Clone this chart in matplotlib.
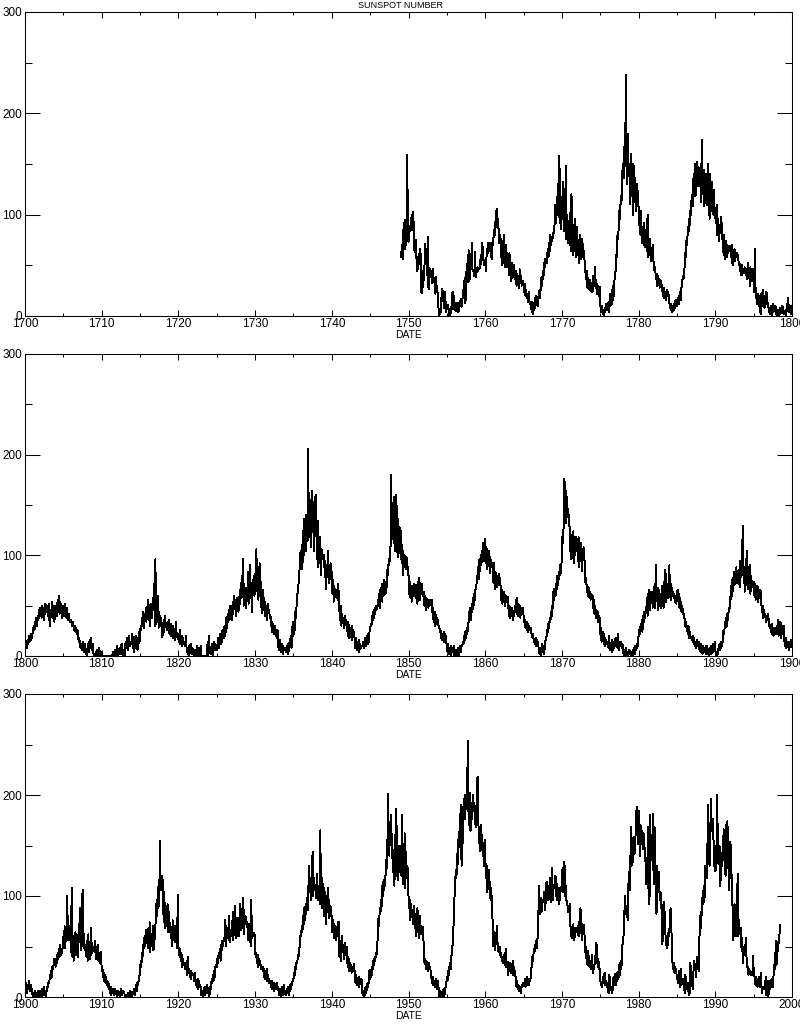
import numpy as np
import matplotlib
matplotlib.use('Agg')
import matplotlib.pyplot as plt
from matplotlib.ticker import MultipleLocator

plt.rcParams['font.family'] = ['Liberation Sans', 'DejaVu Sans']

# monthly sunspot numbers, one row per year (Jan..Dec)
ssn_1749 = [
    58, 63, 70, 56, 85, 84, 95, 66, 76, 76, 159, 85,      # 1749
    73, 76, 89, 88, 90, 100, 85, 103, 91, 66, 63, 75,     # 1750
    70, 44, 45, 56, 61, 51, 66, 60, 24, 23, 29, 44,
    35, 50, 71, 59, 60, 40, 78, 29, 27, 47, 38, 40,
    44, 32, 46, 38, 36, 32, 22, 39, 28, 25, 20, 7,
    0, 3, 2, 14, 21, 27, 19, 12, 8, 24, 13, 4,
    10, 11, 7, 7, 0, 0, 9, 3, 18, 24, 7, 20,              # 1755
    13, 7, 5, 9, 13, 13, 4, 6, 12, 14, 17, 9,
    14, 21, 26, 30, 38, 13, 25, 51, 40, 33, 65, 34,
    38, 52, 49, 72, 46, 45, 44, 39, 63, 38, 43, 43,
    48, 44, 47, 47, 49, 60, 51, 72, 68, 57, 50, 55,
    55, 44, 58, 66, 62, 72, 68, 64, 72, 66, 56, 72,       # 1760
    70, 78, 85, 80, 92, 100, 106, 88, 96, 84, 72, 80,
    76, 58, 72, 50, 64, 80, 56, 48, 62, 70, 50, 48,
    56, 40, 62, 42, 48, 34, 52, 44, 38, 50, 36, 40,
    44, 30, 42, 38, 34, 28, 46, 36, 40, 30, 34, 35,
    30, 24, 32, 20, 26, 18, 22, 14, 24, 16, 12, 13,       # 1765
    8, 4, 14, 2, 10, 6, 18, 12, 20, 14, 10, 19,
    20, 26, 18, 32, 38, 30, 44, 36, 52, 48, 56, 54,
    52, 60, 66, 58, 72, 64, 80, 70, 78, 74, 82, 82,
    84, 96, 110, 92, 118, 100, 130, 98, 158, 112, 86, 89,
    118, 96, 132, 84, 110, 92, 148, 76, 100, 88, 72, 94,  # 1770
    70, 102, 64, 120, 84, 90, 60, 78, 96, 70, 58, 87,
    88, 60, 74, 52, 70, 80, 56, 62, 76, 58, 64, 58,
    50, 42, 36, 44, 28, 38, 30, 26, 36, 32, 24, 32,
    24, 40, 30, 36, 48, 28, 34, 22, 30, 26, 20, 29,
    12, 4, 8, 10, 2, 6, 0, 8, 4, 12, 6, 12,               # 1775
    8, 14, 4, 22, 10, 18, 26, 12, 30, 20, 34, 40,
    45, 60, 58, 80, 76, 90, 104, 96, 118, 110, 124, 149,
    150, 136, 170, 148, 238, 160, 130, 180, 142, 138, 150, 110,
    160, 118, 140, 100, 150, 128, 112, 136, 104, 124, 130, 109,
    108, 90, 96, 80, 104, 72, 88, 76, 70, 92, 68, 74,     # 1780
    80, 64, 100, 58, 72, 60, 76, 54, 66, 62, 70, 55,
    52, 44, 48, 36, 42, 30, 40, 38, 34, 28, 36, 34,
    30, 26, 20, 28, 18, 24, 22, 16, 26, 20, 24, 20,
    14, 8, 12, 6, 10, 4, 8, 12, 6, 14, 16, 12,
    10, 14, 18, 12, 20, 24, 16, 28, 32, 38, 40, 37,       # 1785
    50, 62, 58, 76, 70, 88, 82, 96, 90, 104, 100, 119,
    120, 108, 140, 126, 150, 118, 144, 130, 152, 128, 140, 128,
    128, 150, 112, 174, 136, 120, 144, 108, 132, 140, 118, 109,
    150, 110, 130, 96, 140, 122, 104, 132, 112, 100, 124, 97,
    104, 92, 110, 80, 96, 86, 74, 90, 82, 98, 90, 77,     # 1790
    72, 60, 80, 56, 66, 74, 58, 70, 62, 68, 64, 69,
    64, 58, 70, 50, 62, 56, 66, 54, 60, 58, 62, 60,
    56, 50, 52, 44, 48, 40, 50, 42, 46, 44, 48, 43,
    40, 46, 36, 52, 38, 44, 30, 48, 36, 42, 34, 46,
    30, 24, 66, 18, 28, 12, 22, 16, 20, 10, 8, 2,         # 1795
    22, 10, 26, 14, 18, 8, 20, 12, 24, 16, 12, 10,
    4, 8, 2, 10, 6, 0, 12, 4, 8, 6, 10, 7,
    0, 2, 6, 0, 4, 8, 2, 6, 4, 10, 3, 4,
    2, 4, 6, 0, 10, 12, 18, 6, 4, 8, 2, 10,
]

ssn_1800 = [
    6, 10, 14, 8, 16, 12, 20, 14, 18, 16, 22, 18,         # 1800
    24, 28, 30, 26, 34, 32, 38, 30, 40, 36, 42, 48,
    40, 44, 38, 50, 42, 48, 36, 46, 52, 44, 50, 50,
    48, 36, 52, 30, 46, 40, 54, 38, 44, 50, 34, 45,
    44, 50, 40, 56, 48, 60, 42, 54, 46, 52, 38, 40,
    50, 44, 52, 40, 46, 38, 48, 36, 42, 40, 34, 36,       # 1805
    36, 32, 30, 34, 28, 26, 30, 24, 28, 22, 26, 21,
    14, 18, 10, 8, 12, 6, 10, 14, 4, 8, 12, 5,
    2, 0, 6, 12, 4, 16, 10, 18, 8, 6, 12, 3,
    0, 0, 2, 4, 0, 6, 2, 0, 8, 4, 0, 4,
    0, 0, 0, 0, 0, 0, 0, 0, 0, 0, 0, 0,                   # 1810
    0, 0, 0, 0, 0, 2, 4, 0, 0, 6, 0, 5,
    10, 2, 0, 4, 8, 2, 6, 12, 4, 0, 6, 6,
    0, 12, 14, 8, 18, 6, 16, 20, 10, 14, 12, 16,
    22, 8, 16, 4, 14, 20, 10, 18, 6, 12, 24, 13,
    20, 30, 26, 38, 32, 44, 28, 40, 36, 48, 34, 49,       # 1815
    40, 56, 36, 48, 30, 52, 44, 38, 58, 46, 72, 30,
    96, 32, 48, 40, 60, 28, 44, 36, 30, 38, 22, 19,
    28, 36, 24, 40, 30, 32, 26, 34, 28, 36, 22, 25,
    32, 20, 28, 18, 30, 22, 26, 16, 34, 24, 20, 17,
    22, 14, 26, 12, 18, 10, 20, 16, 12, 14, 10, 13,       # 1820
    20, 4, 8, 2, 10, 0, 6, 12, 4, 2, 8, 3,
    0, 2, 6, 0, 4, 10, 2, 0, 8, 6, 0, 10,
    0, 0, 0, 0, 0, 0, 0, 0, 0, 8, 14, 0,
    20, 4, 6, 2, 12, 10, 0, 8, 14, 6, 12, 8,
    6, 10, 18, 8, 16, 22, 12, 20, 14, 26, 18, 29,         # 1825
    18, 30, 24, 38, 28, 42, 34, 46, 36, 50, 40, 50,
    36, 54, 42, 60, 48, 56, 40, 58, 46, 52, 44, 59,
    52, 66, 58, 80, 60, 96, 50, 72, 62, 68, 48, 58,
    60, 84, 52, 72, 90, 58, 66, 44, 76, 62, 80, 60,
    72, 88, 106, 64, 78, 56, 70, 92, 60, 74, 48, 43,      # 1830
    66, 50, 58, 40, 54, 42, 48, 36, 52, 44, 46, 38,
    40, 30, 34, 24, 32, 28, 22, 30, 20, 26, 18, 26,
    12, 6, 10, 16, 4, 8, 12, 2, 10, 6, 8, 8,
    4, 8, 6, 12, 2, 10, 14, 16, 20, 8, 24, 34,
    20, 30, 26, 44, 38, 52, 60, 66, 72, 80, 92, 103,      # 1835
    98, 110, 86, 124, 100, 136, 118, 104, 140, 122, 114, 206,
    130, 162, 118, 150, 108, 164, 126, 144, 104, 158, 136, 160,
    120, 96, 134, 88, 110, 92, 118, 80, 106, 98, 100, 96,
    100, 78, 94, 66, 90, 80, 104, 72, 86, 76, 92, 90,
    80, 62, 76, 54, 70, 60, 66, 58, 64, 56, 72, 57,       # 1840
    44, 36, 50, 30, 42, 34, 38, 28, 40, 32, 36, 30,
    30, 20, 34, 18, 28, 22, 26, 16, 30, 20, 24, 22,
    14, 8, 18, 6, 12, 10, 16, 4, 12, 8, 10, 10,
    10, 14, 8, 12, 18, 10, 16, 20, 12, 22, 14, 24,
    26, 32, 30, 40, 36, 44, 38, 48, 42, 50, 46, 49,       # 1845
    50, 56, 62, 48, 66, 58, 72, 54, 68, 60, 76, 68,
    62, 74, 68, 86, 80, 96, 90, 104, 110, 180, 116, 116,
    140, 112, 158, 104, 130, 160, 118, 98, 136, 110, 128, 102,
    124, 96, 110, 80, 104, 88, 100, 92, 86, 98, 90, 88,
    80, 62, 74, 58, 70, 54, 68, 64, 72, 60, 66, 71,       # 1850
    58, 70, 52, 74, 60, 78, 56, 68, 62, 72, 60, 64,
    64, 50, 60, 46, 58, 52, 56, 48, 54, 50, 56, 55,
    56, 44, 48, 36, 40, 30, 44, 34, 38, 32, 36, 30,
    30, 24, 26, 18, 22, 16, 20, 14, 24, 18, 20, 15,
    10, 4, 12, 2, 8, 6, 0, 10, 4, 8, 6, 10,               # 1855
    0, 2, 6, 0, 4, 8, 2, 0, 6, 10, 4, 10,
    10, 14, 12, 20, 16, 24, 18, 28, 22, 30, 34, 44,
    40, 48, 36, 52, 44, 58, 50, 62, 56, 68, 70, 74,
    80, 88, 76, 96, 84, 100, 90, 104, 98, 112, 94, 104,
    116, 92, 108, 86, 100, 94, 104, 82, 98, 90, 88, 92,   # 1860
    88, 72, 92, 66, 84, 74, 80, 68, 78, 70, 82, 72,
    70, 56, 66, 52, 62, 58, 64, 50, 60, 54, 58, 59,
    52, 40, 50, 38, 46, 42, 48, 36, 44, 40, 46, 46,
    56, 42, 58, 40, 52, 44, 50, 38, 48, 42, 46, 48,
    40, 34, 36, 28, 32, 26, 34, 24, 30, 28, 26, 28,       # 1865
    24, 20, 18, 22, 14, 16, 12, 18, 10, 16, 14, 12,
    4, 2, 8, 0, 6, 12, 4, 10, 2, 8, 14, 18,
    20, 26, 24, 32, 28, 38, 34, 44, 40, 50, 48, 67,
    56, 64, 60, 72, 66, 80, 70, 84, 76, 90, 82, 88,
    100, 120, 112, 140, 176, 150, 164, 132, 158, 138, 146, 132,  # 1870
    128, 104, 120, 96, 116, 108, 124, 92, 112, 100, 118, 116,
    110, 94, 118, 88, 104, 96, 112, 84, 106, 98, 108, 101,
    84, 72, 78, 64, 70, 60, 68, 58, 64, 56, 62, 58,
    60, 48, 56, 42, 50, 38, 46, 40, 44, 34, 40, 38,
    22, 28, 14, 20, 16, 24, 12, 18, 10, 16, 12, 12,       # 1875
    14, 8, 20, 6, 12, 10, 16, 4, 12, 8, 14, 12,
    18, 10, 16, 8, 22, 6, 14, 12, 10, 14, 8, 11,
    4, 0, 6, 2, 8, 0, 4, 2, 0, 6, 4, 5,
    0, 2, 4, 0, 6, 8, 2, 10, 6, 12, 8, 14,
    20, 26, 22, 30, 28, 36, 24, 40, 34, 44, 38, 46,       # 1880
    44, 58, 40, 62, 50, 66, 46, 60, 54, 64, 48, 60,
    54, 72, 48, 90, 56, 64, 46, 68, 58, 62, 50, 48,
    56, 70, 62, 48, 74, 60, 86, 54, 66, 72, 58, 58,
    90, 66, 72, 56, 68, 60, 64, 58, 62, 54, 60, 52,
    60, 66, 56, 62, 48, 58, 52, 44, 50, 46, 42, 42,       # 1885
    36, 30, 34, 28, 26, 22, 30, 18, 24, 20, 18, 19,
    16, 20, 12, 18, 10, 14, 8, 16, 12, 10, 14, 7,
    8, 4, 12, 6, 2, 10, 4, 8, 6, 2, 10, 10,
    2, 6, 0, 8, 4, 10, 2, 6, 12, 4, 8, 14,
    6, 2, 0, 4, 2, 8, 10, 12, 6, 14, 10, 11,              # 1890
    20, 26, 22, 34, 28, 38, 30, 42, 36, 48, 44, 59,
    56, 70, 60, 78, 64, 84, 70, 80, 76, 88, 72, 78,
    72, 86, 68, 94, 78, 90, 100, 129, 80, 88, 64, 72,
    96, 70, 104, 66, 84, 74, 90, 62, 80, 72, 68, 70,
    74, 60, 72, 56, 68, 62, 70, 54, 64, 58, 66, 64,       # 1895
    52, 44, 50, 38, 46, 40, 42, 34, 40, 36, 42, 38,
    34, 28, 30, 24, 32, 22, 26, 20, 28, 24, 22, 24,
    30, 22, 36, 20, 28, 24, 34, 18, 26, 30, 22, 30,
    16, 10, 18, 8, 14, 12, 10, 6, 14, 12, 16, 9,
]

ssn_1900 = [
    10, 6, 14, 4, 12, 8, 16, 10, 6, 12, 8, 8,             # 1900
    0, 2, 4, 0, 6, 2, 0, 4, 2, 6, 0, 6,
    6, 2, 0, 8, 4, 2, 10, 4, 6, 0, 8, 10,
    10, 16, 14, 22, 18, 26, 20, 30, 28, 34, 38, 37,
    30, 36, 34, 44, 38, 48, 40, 52, 42, 46, 44, 50,
    60, 52, 70, 48, 66, 58, 100, 62, 56, 56, 70, 64,      # 1905
    44, 108, 40, 60, 36, 58, 50, 64, 42, 56, 48, 40,
    72, 58, 88, 46, 66, 54, 106, 50, 62, 48, 52, 42,
    40, 56, 36, 62, 44, 50, 38, 68, 42, 54, 46, 46,
    50, 44, 56, 38, 48, 40, 52, 36, 44, 34, 40, 45,
    26, 30, 20, 24, 16, 22, 14, 20, 12, 16, 10, 13,       # 1910
    8, 4, 10, 2, 6, 8, 4, 6, 2, 8, 6, 4,
    0, 2, 6, 4, 2, 0, 8, 2, 4, 6, 4, 5,
    2, 0, 0, 2, 0, 4, 0, 0, 0, 6, 2, 1,
    2, 4, 6, 8, 2, 10, 12, 6, 14, 12, 18, 21,
    24, 36, 30, 44, 40, 52, 48, 60, 50, 66, 58, 61,       # 1915
    48, 68, 52, 74, 44, 62, 56, 50, 70, 46, 58, 57,
    70, 84, 96, 80, 104, 110, 90, 155, 120, 106, 112, 120,
    96, 74, 104, 68, 88, 82, 70, 92, 64, 84, 72, 73,
    58, 60, 50, 76, 62, 68, 54, 70, 56, 60, 48, 101,
    50, 44, 40, 48, 36, 42, 30, 38, 32, 34, 28, 29,       # 1920
    30, 36, 22, 40, 24, 28, 20, 26, 18, 24, 22, 23,
    20, 16, 24, 12, 14, 10, 18, 8, 16, 12, 10, 10,
    2, 6, 4, 0, 8, 10, 2, 6, 4, 12, 8, 8,
    0, 4, 10, 8, 18, 14, 22, 16, 26, 20, 30, 32,
    30, 38, 34, 44, 40, 48, 36, 52, 46, 56, 50, 58,       # 1925
    56, 76, 50, 70, 58, 68, 62, 80, 54, 66, 60, 67,
    62, 84, 56, 76, 66, 90, 58, 72, 64, 78, 60, 62,
    70, 92, 66, 84, 74, 98, 62, 86, 72, 80, 76, 74,
    70, 56, 72, 60, 68, 50, 96, 58, 64, 62, 60, 63,
    46, 40, 44, 34, 42, 30, 38, 32, 36, 28, 30, 28,       # 1930
    26, 30, 22, 18, 24, 20, 28, 16, 22, 18, 14, 16,
    14, 10, 16, 8, 12, 6, 14, 10, 8, 12, 14, 9,
    10, 4, 2, 8, 6, 0, 10, 4, 2, 12, 6, 4,
    2, 6, 4, 10, 8, 2, 12, 6, 10, 14, 12, 18,
    18, 24, 22, 30, 28, 36, 34, 42, 40, 48, 50, 61,       # 1935
    60, 70, 64, 80, 72, 88, 76, 92, 82, 98, 86, 88,
    130, 104, 118, 96, 112, 124, 144, 100, 118, 106, 110, 111,
    98, 122, 104, 96, 110, 92, 165, 100, 118, 88, 112, 110,
    80, 104, 92, 72, 100, 84, 108, 78, 96, 82, 90, 80,
    80, 64, 76, 58, 72, 62, 70, 56, 68, 60, 74, 74,       # 1940
    40, 56, 36, 52, 60, 44, 48, 38, 54, 42, 50, 50,
    36, 30, 40, 26, 34, 28, 32, 24, 30, 26, 28, 33,
    20, 14, 22, 12, 18, 16, 20, 10, 16, 14, 18, 16,
    4, 2, 6, 0, 8, 10, 4, 12, 14, 10, 18, 27,
    18, 24, 20, 30, 28, 36, 32, 40, 36, 44, 42, 48,       # 1945
    62, 78, 70, 88, 82, 96, 90, 110, 100, 116, 106, 113,
    120, 136, 128, 150, 201, 164, 140, 172, 150, 180, 138, 140,
    124, 146, 110, 160, 130, 186, 120, 142, 116, 150, 128, 124,
    150, 120, 180, 112, 140, 126, 162, 108, 144, 118, 130, 126,
    100, 88, 96, 76, 92, 80, 86, 72, 90, 78, 82, 67,      # 1950
    60, 76, 88, 64, 72, 58, 80, 62, 70, 66, 68, 69,
    40, 34, 38, 28, 36, 30, 32, 26, 34, 28, 30, 22,
    18, 14, 20, 12, 16, 10, 14, 18, 8, 12, 16, 9,
    2, 0, 6, 4, 0, 2, 4, 8, 0, 6, 10, 11,
    20, 16, 26, 22, 30, 34, 28, 40, 44, 52, 66, 78,       # 1955
    100, 112, 126, 118, 142, 132, 156, 148, 168, 178, 190, 130,
    166, 152, 188, 196, 176, 200, 186, 206, 216, 254, 172, 170,
    202, 164, 192, 176, 180, 200, 186, 192, 182, 168, 170, 206,
    218, 180, 160, 152, 144, 170, 148, 160, 140, 150, 130, 156,
    140, 118, 132, 104, 120, 110, 126, 98, 114, 96, 100, 90,  # 1960
    60, 50, 64, 46, 58, 52, 70, 56, 48, 44, 50, 49,
    40, 44, 36, 40, 34, 42, 36, 32, 48, 30, 34, 35,
    22, 30, 26, 34, 24, 32, 28, 36, 22, 30, 26, 25,
    14, 10, 16, 8, 12, 6, 10, 8, 4, 12, 10, 12,
    14, 12, 18, 10, 16, 12, 20, 14, 12, 18, 16, 19,       # 1965
    26, 32, 40, 36, 48, 44, 52, 50, 56, 48, 60, 72,
    110, 90, 82, 98, 84, 88, 96, 94, 104, 90, 86, 104,
    114, 98, 104, 96, 110, 104, 118, 94, 128, 100, 96, 109,
    108, 116, 120, 100, 112, 96, 104, 92, 108, 96, 106, 108,
    112, 128, 104, 120, 134, 100, 110, 96, 92, 90, 84, 84,  # 1970
    92, 78, 60, 62, 58, 66, 72, 56, 60, 62, 68, 65,
    68, 70, 60, 74, 64, 88, 76, 56, 72, 62, 66, 71,
    44, 50, 40, 36, 32, 46, 38, 30, 36, 34, 28, 42,
    28, 24, 30, 32, 36, 46, 54, 40, 30, 38, 28, 28,
    18, 12, 14, 10, 20, 14, 22, 24, 12, 16, 14, 10,       # 1975
    8, 4, 22, 18, 10, 8, 6, 4, 16, 20, 12, 23,
    16, 12, 20, 24, 18, 32, 20, 30, 36, 28, 38, 56,
    52, 74, 86, 100, 82, 90, 82, 76, 110, 124, 106, 128,
    168, 130, 140, 134, 158, 156, 142, 156, 178, 188, 164, 151,
    158, 184, 140, 170, 154, 164, 152, 146, 162, 150, 144, 131,  # 1980
    112, 138, 108, 168, 130, 92, 180, 140, 150, 160, 126, 181,
    112, 168, 150, 100, 82, 130, 104, 120, 124, 96, 104, 101,
    84, 52, 60, 94, 90, 80, 62, 56, 48, 50, 56, 67,
    60, 74, 88, 68, 58, 34, 28, 34, 24, 30, 28, 25,
    18, 22, 14, 26, 16, 10, 28, 12, 18, 18, 16, 17,       # 1985
    4, 22, 18, 14, 8, 6, 14, 2, 4, 34, 20, 15,
    12, 8, 28, 36, 30, 30, 20, 32, 40, 32, 26, 59,
    64, 84, 68, 98, 92, 100, 110, 94, 130, 124, 120, 118,
    162, 190, 146, 130, 138, 196, 164, 166, 176, 158, 140, 125,
    150, 126, 142, 200, 140, 132, 150, 148, 110, 140, 130, 143,  # 1990
    136, 166, 140, 142, 120, 170, 168, 174, 128, 144, 106, 154,
    150, 130, 112, 88, 56, 64, 92, 88, 60, 80, 90, 122,
    60, 76, 64, 62, 68, 48, 58, 34, 40, 46, 52, 47,
    58, 36, 30, 30, 22, 28, 24, 24, 22, 22, 22, 41,
    26, 22, 18, 12, 20, 16, 10, 14, 20, 18, 10, 24,       # 1995
    12, 4, 10, 8, 8, 8, 12, 20, 2, 2, 16, 1,
    6, 8, 16, 10, 18, 12, 10, 20, 32, 28, 42, 56,
    32, 40, 55, 53, 56, 71,                               # 1998 (Jan-Jun)
]

# (axis start year, first data year, values, top px, bottom px)
panels = [
    (1700, 1749, ssn_1749, 12, 316),
    (1800, 1800, ssn_1800, 354, 656),
    (1900, 1900, ssn_1900, 694, 997),
]

W, H = 800, 1024
fig = plt.figure(figsize=(W / 100, H / 100), dpi=100)

for x0, start, vals, top, bot in panels:
    ax = fig.add_axes([25 / W, 1 - bot / H, 767 / W, (bot - top) / H])
    t = start + np.arange(len(vals)) / 12.0
    ax.plot(t, vals, color='black', lw=0.7, antialiased=False)

    ax.set_xlim(x0, x0 + 100)
    ax.set_ylim(0, 300)
    ax.xaxis.set_major_locator(MultipleLocator(10))
    ax.xaxis.set_minor_locator(MultipleLocator(5))
    ax.yaxis.set_major_locator(MultipleLocator(100))
    ax.yaxis.set_minor_locator(MultipleLocator(50))

    ax.tick_params(which='both', direction='in', top=True, right=True,
                   width=0.75, labelsize=8.5)
    ax.tick_params(axis='x', which='major', length=4.5, pad=1.5)
    ax.tick_params(axis='x', which='minor', length=2.2)
    ax.tick_params(axis='y', which='major', length=10.5, pad=2)
    ax.tick_params(axis='y', which='minor', length=5)
    for s in ax.spines.values():
        s.set_linewidth(0.75)

    ax.set_xlabel('DATE', fontsize=7.5, labelpad=0)

fig.text(0.5, 1 - 5 / H, 'SUNSPOT NUMBER', ha='center', va='center', fontsize=6.5)

fig.savefig('out.png', dpi=100)
